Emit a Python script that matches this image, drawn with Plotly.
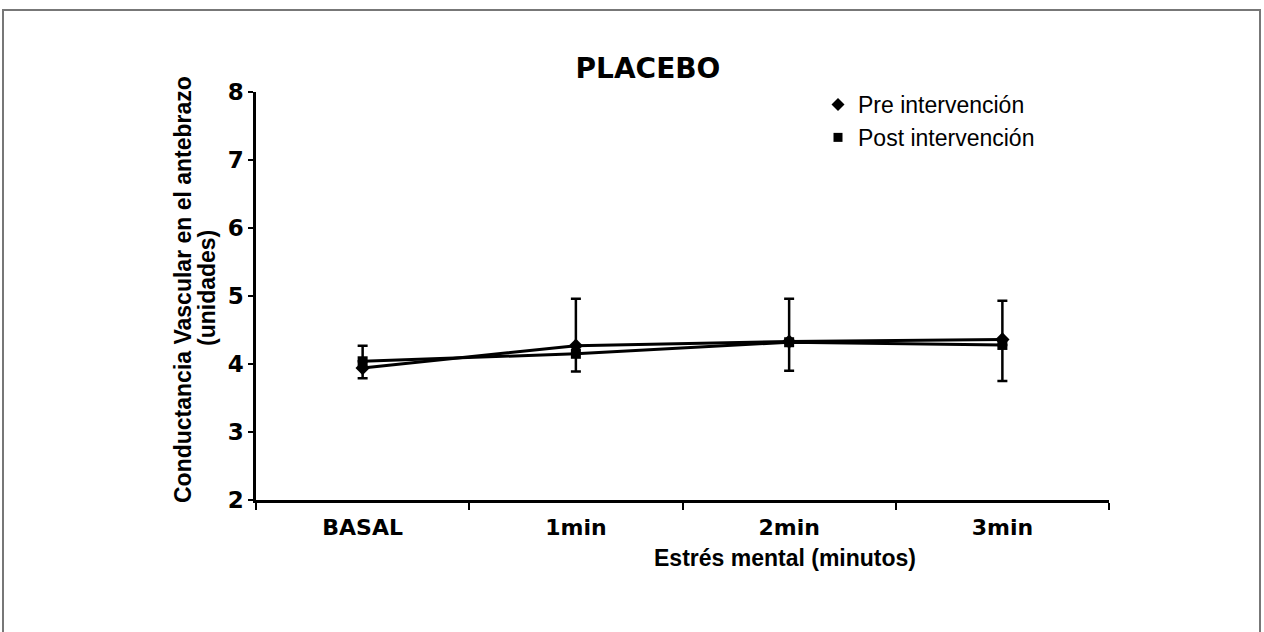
import plotly.graph_objects as go

categories = ["BASAL", "1min", "2min", "3min"]
pre_values = [3.94, 4.27, 4.33, 4.36]
post_values = [4.04, 4.15, 4.32, 4.28]
pre_err_plus = [0.33, 0.69, 0.63, 0.57]
post_err_minus = [0.25, 0.26, 0.42, 0.53]
y_ticks = [2, 3, 4, 5, 6, 7, 8]

heavy = dict(family="DejaVu Sans", size=23, color="black")
xtickfont = dict(family="DejaVu Sans", size=22, color="black")
labelfont = dict(family="Liberation Sans", size=23, color="black")

fig = go.Figure()
fig.add_trace(go.Scatter(
    x=categories, y=post_values, mode="lines+markers", showlegend=False,
    line=dict(color="black", width=3),
    marker=dict(symbol="square", size=10, color="black"),
    error_y=dict(type="data", symmetric=False, array=[0]*4, arrayminus=post_err_minus,
                 color="black", thickness=2.5, width=5),
))
fig.add_trace(go.Scatter(
    x=categories, y=pre_values, mode="lines+markers", showlegend=False,
    line=dict(color="black", width=3),
    marker=dict(symbol="diamond", size=11, color="black"),
    error_y=dict(type="data", symmetric=False, array=pre_err_plus, arrayminus=[0]*4,
                 color="black", thickness=2.5, width=5),
))
# legend entries (markers only)
fig.add_trace(go.Scatter(x=[None], y=[None], mode="markers", name="Pre intervención",
                         legendgroup="a",
                         marker=dict(symbol="diamond", size=10, color="black")))
fig.add_trace(go.Scatter(x=[None], y=[None], mode="markers", name="Post intervención",
                         legendgroup="b",
                         marker=dict(symbol="square", size=9, color="black")))

fig.update_layout(
    width=1264, height=632,
    margin=dict(l=256, r=155, t=92, b=132),
    paper_bgcolor="white", plot_bgcolor="white",
    title=dict(text="<b>PLACEBO</b>", x=(648-256)/853, xref="paper", xanchor="center",
               y=1-68/632, yanchor="middle",
               font=dict(family="DejaVu Sans", size=28, color="black")),
    showlegend=True,
    legend=dict(x=(818-256)/853, xanchor="left", y=1.022, yanchor="top",
                font=dict(family="Liberation Sans", size=23, color="black"),
                bgcolor="rgba(0,0,0,0)", tracegroupgap=0, itemwidth=30),
    xaxis=dict(type="category", range=[-0.5, 3.5], tickson="boundaries",
               ticks="outside", ticklen=7, tickwidth=2, tickcolor="black",
               showline=True, linecolor="black", linewidth=2.5,
               showgrid=False, zeroline=False, ticklabelstandoff=6,
               tickvals=categories, ticktext=["<b>%s</b>" % c for c in categories],
               tickfont=xtickfont),
    yaxis=dict(range=[2, 8], tickvals=y_ticks,
               ticktext=["<b>%d</b>" % v for v in y_ticks],
               ticks="outside", ticklen=5, tickwidth=2, tickcolor="black",
               showline=True, linecolor="black", linewidth=2.5,
               showgrid=False, zeroline=False, tickfont=heavy),
)

fig.add_annotation(text="<b>Conductancia Vascular en el antebrazo</b>", textangle=-90,
                   xref="paper", yref="paper", x=(183-256)/853, y=(500-290)/408,
                   xanchor="center", yanchor="middle", showarrow=False, font=labelfont)
fig.add_annotation(text="<b>(unidades)</b>", textangle=-90,
                   xref="paper", yref="paper", x=(207-256)/853, y=(500-288)/408,
                   xanchor="center", yanchor="middle", showarrow=False, font=labelfont)
fig.add_annotation(text="<b>Estrés mental (minutos)</b>", xref="paper", yref="paper",
                   x=(785-256)/853, y=-(558-500)/408, xanchor="center", yanchor="middle",
                   showarrow=False, font=labelfont)

fig.add_shape(type="rect", xref="paper", yref="paper",
              x0=(3-256)/853, x1=(1260-256)/853, y0=-(650-500)/408, y1=(500-10)/408,
              line=dict(color="#777777", width=2), fillcolor="rgba(0,0,0,0)", layer="below")

fig.write_html("out.html", config={"displayModeBar": False},
               post_script="document.body.style.margin='0';")
